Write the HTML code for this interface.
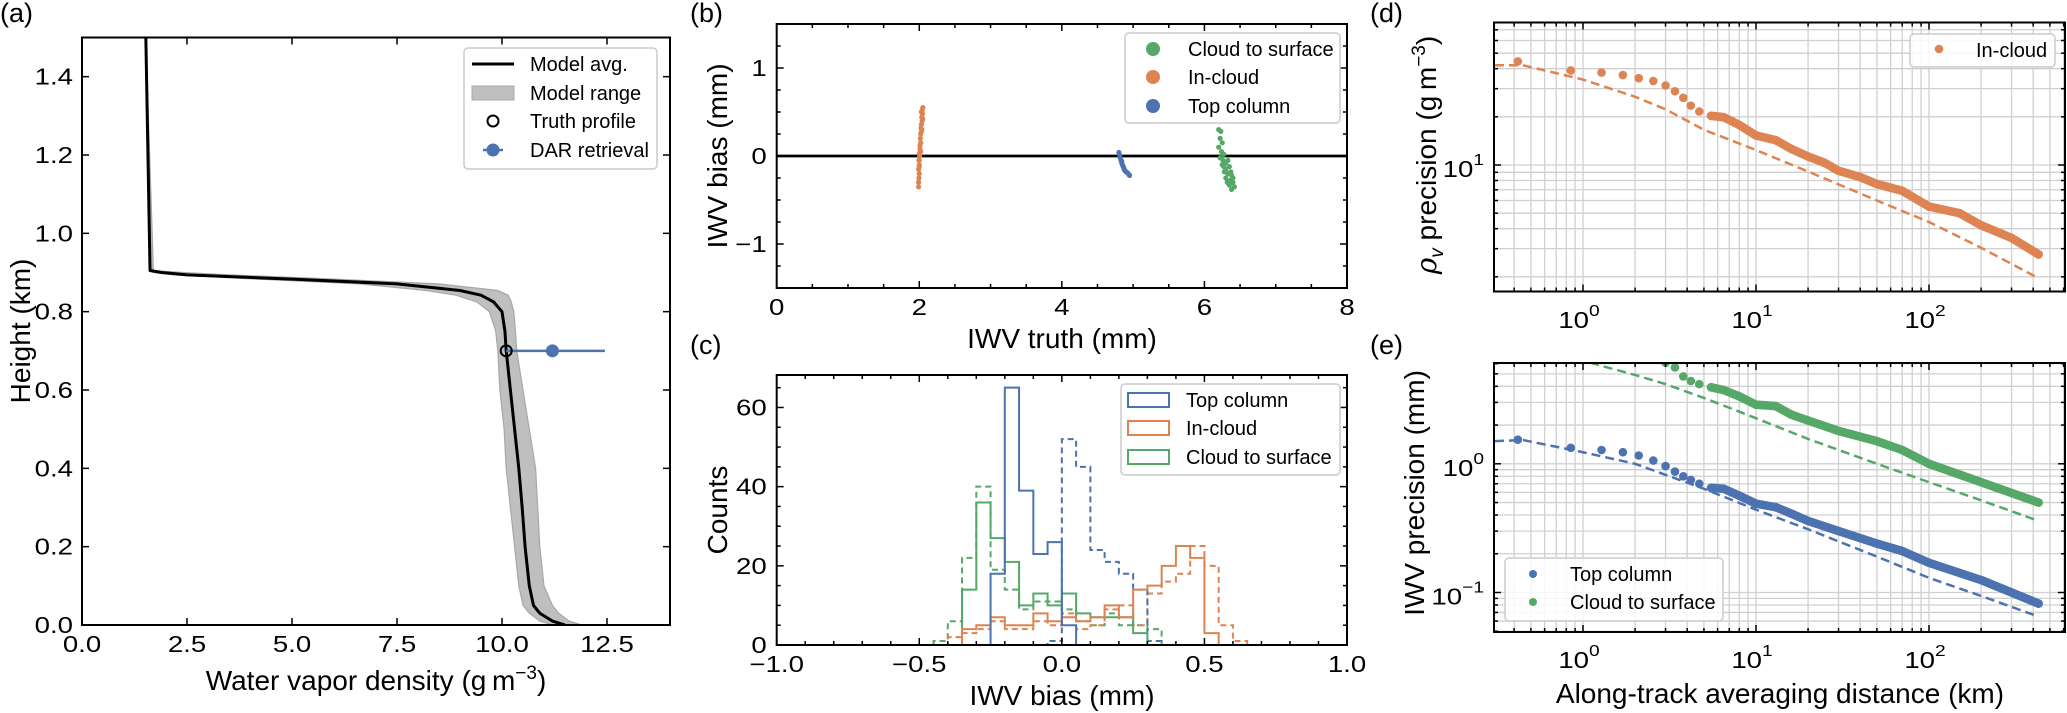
<!DOCTYPE html>
<html><head><meta charset="utf-8"><style>
html,body{margin:0;padding:0;background:#fff;}
svg{display:block;font-family:"Liberation Sans",sans-serif;}
</style></head><body>
<svg id="fig" width="2067" height="713" viewBox="0 0 2067 713" xmlns="http://www.w3.org/2000/svg"></svg>
<script>
// ---------- Panel (a) data ----------
const profZ=[1.5,0.905,0.9,0.894,0.883,0.871,0.854,0.842,0.825,0.8,0.75,0.7,0.6,0.5,0.4,0.3,0.2,0.1,0.05,0.03,0.01,0];
const profAvg=[1.52,1.62,1.9,2.5,5.0,7.5,9.0,9.5,9.8,10.0,10.07,10.1,10.2,10.3,10.4,10.48,10.55,10.65,10.75,10.9,11.2,11.5];
const profMin=[1.52,1.6,1.7,2.2,4.2,6.6,8.2,8.9,9.4,9.7,9.85,9.9,9.95,10.05,10.1,10.2,10.3,10.4,10.5,10.65,10.9,11.2];
const profMax=[1.52,1.7,2.4,3.5,6.0,8.5,9.9,10.15,10.22,10.28,10.32,10.35,10.5,10.65,10.8,10.85,10.9,11.0,11.2,11.35,11.6,11.9];
const truthPt=[10.1,0.7];
const darPt=[11.2,0.7];
const darErr=[10.1,12.45];
// ---------- Panel (b) data ----------
const scatIn=[[1.99,-0.35],[1.99,-0.3],[1.995,-0.25],[2.0,-0.2],[1.99,-0.15],[2.0,-0.1],[2.0,-0.05],[2.005,0],[2.0,0.03],[2.01,0.08],[2.01,0.12],[2.02,0.15],[2.015,0.2],[2.02,0.25],[2.03,0.28],[2.025,0.32],[2.03,0.36],[2.04,0.4],[2.035,0.44],[2.045,0.48],[2.04,0.52],[2.05,0.55],[2.03,0.5],[2.05,0.42],[2.0,-0.12],[1.995,-0.05],[2.02,0.05],[2.035,0.3]];
const scatTop=[[4.8,0.04],[4.81,0.01],[4.82,-0.02],[4.83,-0.05],[4.84,-0.08],[4.85,-0.1],[4.86,-0.12],[4.87,-0.14],[4.88,-0.16],[4.9,-0.18],[4.92,-0.19],[4.94,-0.21],[4.95,-0.22],[4.89,-0.17],[4.84,-0.06]];
const scatSurf=[[6.2,0.3],[6.23,0.28],[6.22,0.2],[6.25,0.15],[6.2,0.1],[6.24,0.05],[6.27,0.02],[6.22,-0.02],[6.26,-0.05],[6.3,-0.08],[6.25,-0.1],[6.3,-0.15],[6.35,-0.12],[6.28,-0.18],[6.33,-0.2],[6.38,-0.22],[6.3,-0.25],[6.36,-0.28],[6.4,-0.25],[6.35,-0.33],[6.4,-0.3],[6.38,-0.38],[6.42,-0.35],[6.32,-0.3],[6.27,-0.12],[6.33,-0.05],[6.37,-0.18]];
// ---------- Panel (c) data (bins of 0.05 starting at -0.45) ----------
const binStart=-0.45, binW=0.05;
const histTopSolid=[0,0,0,0,18,65,39,23,26,5,0,0,0,0,0,0,0,0,0,0,0,0,0];
const histTopDash=[0,0,0,0,0,0,0,0,1,52,45,24,21,18,14,1,0,0,0,0,0,0,0];
const histInSolid=[0,0,4,5,7,5,5,8,6,7,6,7,10,7,14,15,20,25,22,3,0,0,0];
const histInDash=[0,2,3,4,6,4,4,6,5,8,4,5,9,10,5,13,16,18,25,20,5,1,0];
const histSurfSolid=[0,0,14,36,27,21,10,13,10,13,8,7,7,7,3,0,0,0,0,0,0,0,0];
const histSurfDash=[1,6,22,40,19,14,9,11,11,9,6,5,8,5,5,4,0,0,0,0,0,0,0];
// ---------- Panel (d) data ----------
const dDist=[0.42,0.85,1.28,1.7,2.1,2.55,3.0,3.4,3.8,4.2,4.7,5.5,6.5,8,10,13,16,20,25,30,40,50,70,100,150,200,300,430];
const dInCloud=[44.4,39.0,37.8,36.5,34.9,33.5,31.4,28.9,26.3,23.5,21.6,20.3,19.9,17.8,15.3,14.3,12.6,11.3,10.3,9.2,8.4,7.6,6.9,5.5,5.0,4.2,3.5,2.76];
const dDashX=[0.31,0.45,1,2,3,5,10,20,50,100,200,430];
const dInDash=[42,42,34.2,26.7,22.3,16.6,12.4,9.1,6.0,4.4,3.04,1.96];
// ---------- Panel (e) data ----------
const eDistTop=[0.42,0.85,1.28,1.7,2.1,2.55,3.0,3.4,3.8,4.2,4.7,5.5,6.5,8,10,13,16,20,30,50,70,100,200,430];
const eTop=[1.54,1.33,1.28,1.23,1.16,1.06,0.96,0.87,0.80,0.75,0.70,0.65,0.64,0.565,0.49,0.46,0.41,0.36,0.30,0.24,0.21,0.17,0.125,0.082];
const eDistSurf=[3.0,3.4,3.8,4.2,4.7,5.5,6.5,8,10,13,16,20,30,50,70,100,200,430];
const eSurf=[6.1,5.6,4.77,4.4,4.16,3.93,3.74,3.34,2.88,2.81,2.41,2.17,1.80,1.50,1.28,1.0,0.72,0.50];
const eDashXTop=[0.31,0.45,1,2,5,10,20,50,100,200,430];
const eTopDash=[1.50,1.53,1.23,1.0,0.64,0.44,0.31,0.19,0.13,0.094,0.065];
const eDashXSurf=[1.1,2,3,5,10,20,50,100,200,430];
const eSurfDash=[6.1,4.9,4.16,3.25,2.26,1.56,1.0,0.72,0.52,0.36];

const BLUE='#4c72b0',ORANGE='#dd8452',GREEN='#55a868';
const NS='http://www.w3.org/2000/svg';
const svg=document.getElementById('fig');
function mk(tag,attrs,parent){const e=document.createElementNS(NS,tag);for(const k in attrs)e.setAttribute(k,attrs[k]);(parent||svg).appendChild(e);return e;}
function lin(d0,d1,r0,r1){return v=>r0+(v-d0)/(d1-d0)*(r1-r0);}
function txt(p,x,y,s,size,anchor,fam,sx){const t=mk('text',{x:sx?0:x,y:sx?0:y,'font-size':size,'text-anchor':anchor||'middle','font-family':fam||'"Liberation Sans",sans-serif',fill:'#000'},p);if(sx)t.setAttribute('transform','translate('+x+','+y+') scale('+sx+',1)');t.textContent=s;return t;}
const TICKFONT='"Liberation Sans",sans-serif';
const TSX=1.2, TFS=23;
function frame(p,x0,y0,x1,y1){const r=mk('rect',{x:x0,y:y0,width:x1-x0,height:y1-y0,fill:'none',stroke:'#000','stroke-width':2},p);}
function xtick(p,x,y0,y1,len){const a=mk('line',{x1:x,x2:x,y1:y1,y2:y1-len,stroke:'#000','stroke-width':1.5},p);const b=mk('line',{x1:x,x2:x,y1:y0,y2:y0+len,stroke:'#000','stroke-width':1.5},p);}
function ytick(p,y,x0,x1,len){const a=mk('line',{x1:x0,x2:x0+len,y1:y,y2:y,stroke:'#000','stroke-width':1.5},p);const b=mk('line',{x1:x1,x2:x1-len,y1:y,y2:y,stroke:'#000','stroke-width':1.5},p);}
function ylabel(p,x,y,s,size){const t=txt(p,0,0,s,size||28);t.setAttribute('transform','translate('+x+','+y+') rotate(-90)');return t;}
function legendBox(p,x,y,w,h){const r=mk('rect',{x:x,y:y,width:w,height:h,rx:4,fill:'#fff','fill-opacity':0.85,stroke:'#cccccc','stroke-width':1.5},p);}
function panelTag(x,y,s){const t=txt(svg,x,y,s,27,'start');}

// ================= Panel (a) =================
(function(){
const g=mk('g',{});
const X0=82,X1=670,Y0=37.5,Y1=625;
const xs=lin(0,14,X0,X1), ys=lin(0,1.5,Y1,Y0);
const cp=mk('clipPath',{id:'clipA'},g);mk('rect',{x:X0,y:Y0,width:X1-X0,height:Y1-Y0},cp);
const pg=mk('g',{'clip-path':'url(#clipA)'},g);
let d='';profZ.forEach((z,i)=>{d+=(i?'L':'M')+xs(profMin[i])+','+ys(z);});
for(let i=profZ.length-1;i>=0;i--)d+='L'+xs(profMax[i])+','+ys(profZ[i]);
const band=mk('path',{d:d+'Z',fill:'#bfbfbf',stroke:'#a8a8a8','stroke-width':1.2},pg);

const avg=mk('polyline',{points:profZ.map((z,i)=>xs(profAvg[i])+','+ys(z)).join(' '),fill:'none',stroke:'#000','stroke-width':3,'stroke-linejoin':'round'},pg);

const eb=mk('line',{x1:xs(darErr[0]),x2:xs(darErr[1]),y1:ys(darPt[1]),y2:ys(darPt[1]),stroke:BLUE,'stroke-width':2.5},pg);

const dp=mk('circle',{cx:xs(darPt[0]),cy:ys(darPt[1]),r:6.5,fill:BLUE},pg);

const tp=mk('circle',{cx:xs(truthPt[0]),cy:ys(truthPt[1]),r:5.5,fill:'none',stroke:'#000','stroke-width':2},pg);

frame(g,X0,Y0,X1,Y1);
const xt=[0,2.5,5,7.5,10,12.5], xtl=['0.0','2.5','5.0','7.5','10.0','12.5'];
xt.forEach((v,i)=>{xtick(g,xs(v),Y0,Y1,7);const t=txt(g,xs(v),Y1+27,xtl[i],TFS,'middle',TICKFONT,TSX);});
const yt=[0,0.2,0.4,0.6,0.8,1.0,1.2,1.4], ytl=['0.0','0.2','0.4','0.6','0.8','1.0','1.2','1.4'];
yt.forEach((v,i)=>{ytick(g,ys(v),X0,X1,7);const t=txt(g,X0-9,ys(v)+8,ytl[i],TFS,'end',TICKFONT,TSX);});
const xl=txt(g,376,690,'',28);xl.innerHTML='Water vapor density (g\u2009m<tspan dy="-11" font-size="19">\u22123</tspan><tspan dy="11">)</tspan>';

const yl=ylabel(g,30,331,'Height (km)');
legendBox(g,464,48,193,121);
const l1=mk('line',{x1:472,x2:514,y1:64,y2:64,stroke:'#000','stroke-width':3},g);
const l2=mk('rect',{x:472,y:86,width:42,height:14,fill:'#bfbfbf',stroke:'#a8a8a8'},g);
const l3=mk('circle',{cx:493,cy:121,r:5.5,fill:'none',stroke:'#000','stroke-width':2},g);
const l4=mk('line',{x1:483,x2:503,y1:150,y2:150,stroke:BLUE,'stroke-width':2.5},g);
const l5=mk('circle',{cx:493,cy:150,r:6.5,fill:BLUE},g);
[['Model avg.',64],['Model range',93],['Truth profile',121],['DAR retrieval',150]].forEach(a=>{const t=txt(g,530,a[1]+7,a[0],20,'start');});
})();

// ================= Panel (b) =================
(function(){
const g=mk('g',{});
const X0=776.7,X1=1347,Y0=24,Y1=288;
const xs=lin(0,8,X0,X1), ys=lin(-1.5,1.5,Y1,Y0);
const zl=mk('line',{x1:X0,x2:X1,y1:ys(0),y2:ys(0),stroke:'#000','stroke-width':2.8},g);

[[scatIn,ORANGE,'in-cloud-point'],[scatTop,BLUE,'top-column-point'],[scatSurf,GREEN,'cloud-to-surface-point']].forEach(s=>{
 s[0].forEach(p=>{const c=mk('circle',{cx:xs(p[0]),cy:ys(p[1]),r:2.6,fill:s[1]},g);
 
 });
});
frame(g,X0,Y0,X1,Y1);
for(let v=0;v<=8.001;v+=0.5){const major=Math.abs(v-Math.round(v/2)*2)<1e-6;xtick(g,xs(v),Y0,Y1,major?7:4);}
[0,2,4,6,8].forEach(v=>{const t=txt(g,xs(v),Y1+27,String(v),TFS,'middle',TICKFONT,TSX);});
for(let v=-1.5;v<=1.501;v+=0.25){const major=Math.abs(v-Math.round(v))<1e-6;ytick(g,ys(v),X0,X1,major?7:4);}
[[-1,'\u22121'],[0,'0'],[1,'1']].forEach(a=>{const t=txt(g,X0-10,ys(a[0])+8,a[1],TFS,'end',TICKFONT,TSX);});
const xl=txt(g,1062,348,'IWV truth (mm)',28);
const yl=ylabel(g,727,156,'IWV bias (mm)');
legendBox(g,1125,33,215,90);
[[GREEN,'Cloud to surface',49],[ORANGE,'In-cloud',77],[BLUE,'Top column',106]].forEach(a=>{
 const c=mk('circle',{cx:1153,cy:a[2],r:7,fill:a[0]},g);
 
 
 const t=txt(g,1188,a[2]+7,a[1],20,'start');
 
 
});
})();

// ================= Panel (c) =================
(function(){
const g=mk('g',{});
const X0=776.7,X1=1347,Y0=375,Y1=645;
const xs=lin(-1,1,X0,X1), ys=lin(0,68.2,Y1,Y0);
function stepPath(arr){let d='M'+xs(binStart)+','+ys(0);arr.forEach((v,i)=>{const a=binStart+i*binW;d+='L'+xs(a)+','+ys(v)+'L'+xs(a+binW)+','+ys(v);});d+='L'+xs(binStart+arr.length*binW)+','+ys(0);return d;}
[[histSurfDash,GREEN,true,'hist-cloud-to-surface-dashed'],[histInDash,ORANGE,true,'hist-in-cloud-dashed'],[histTopDash,BLUE,true,'hist-top-column-dashed'],
 [histSurfSolid,GREEN,false,'hist-cloud-to-surface'],[histInSolid,ORANGE,false,'hist-in-cloud'],[histTopSolid,BLUE,false,'hist-top-column']].forEach(h=>{
 const p=mk('path',{d:stepPath(h[0]),fill:'none',stroke:h[1],'stroke-width':2,'stroke-dasharray':h[2]?'6,4':'none'},g);
 
 
});
frame(g,X0,Y0,X1,Y1);
for(let k=-10;k<=10;k++){const v=k/10;xtick(g,xs(v),Y0,Y1,k%5===0?7:4);}
[[-1,'\u22121.0'],[-0.5,'\u22120.5'],[0,'0.0'],[0.5,'0.5'],[1,'1.0']].forEach(a=>{const t=txt(g,xs(a[0]),Y1+27,a[1],TFS,'middle',TICKFONT,TSX);});
for(let v=0;v<=68;v+=5){ytick(g,ys(v),X0,X1,v%20===0?7:4);}
[0,20,40,60].forEach(v=>{const t=txt(g,X0-10,ys(v)+8,String(v),TFS,'end',TICKFONT,TSX);});
const xl=txt(g,1062,705,'IWV bias (mm)',28);
const yl=ylabel(g,727,510,'Counts');
legendBox(g,1121,384,219,91);
[[BLUE,'Top column',400],[ORANGE,'In-cloud',428],[GREEN,'Cloud to surface',457]].forEach(a=>{
 const r=mk('rect',{x:1128,y:a[2]-7,width:41,height:14,fill:'none',stroke:a[0],'stroke-width':2},g);
 
 
 const t=txt(g,1186,a[2]+7,a[1],20,'start');
 
 
});
})();

// ================= log panels helpers =================
function logPanel(g,X0,X1,Y0,Y1,xs,ys,xmin,xmax,ymin,ymax){
 for(let e=-1;e<=3;e++){for(let m=1;m<=9;m++){const v=m*Math.pow(10,e);if(v<xmin||v>xmax)continue;const x=xs(v);
  const gl=mk('line',{x1:x,x2:x,y1:Y0,y2:Y1,stroke:'#d0d0d0','stroke-width':1.3},g);
  
  }}
 for(let e=-2;e<=2;e++){for(let m=1;m<=9;m++){const v=m*Math.pow(10,e);if(v<ymin||v>ymax)continue;const y=ys(v);
  const gl=mk('line',{x1:X0,x2:X1,y1:y,y2:y,stroke:'#d0d0d0','stroke-width':1.3},g);
  
  }}
}
function logTicks(g,X0,X1,Y0,Y1,xs,ys,xmin,xmax,ymin,ymax){
 for(let e=-1;e<=3;e++){for(let m=1;m<=9;m++){const v=m*Math.pow(10,e);if(v<xmin||v>xmax)continue;xtick(g,xs(v),Y0,Y1,m===1?7:4);}}
 for(let e=-2;e<=2;e++){for(let m=1;m<=9;m++){const v=m*Math.pow(10,e);if(v<ymin||v>ymax)continue;ytick(g,ys(v),X0,X1,m===1?7:4);}}
}
function powLabel(g,x,y,exp,anchor){const t=txt(g,x,y,'',TFS,anchor,TICKFONT,TSX);t.innerHTML='10<tspan dy="-12" font-size="16">'+exp+'</tspan>';return t;}
function dotSeries(g,xs,ys,X,Y,col,name,denseFrom){
 const pts=[];X.forEach((x,i)=>{if(x>=denseFrom)pts.push(xs(x)+','+ys(Y[i]));});
 const pl=mk('polyline',{points:pts.join(' '),fill:'none',stroke:col,'stroke-width':8.6,'stroke-linecap':'round','stroke-linejoin':'round'},g);
 
 
 X.forEach((x,i)=>{const c=mk('circle',{cx:xs(x),cy:ys(Y[i]),r:4.3,fill:col},g);
  
  });
}
function dashSeries(g,xs,ys,X,Y,col,name){
 const pl=mk('polyline',{points:X.map((x,i)=>xs(x)+','+ys(Y[i])).join(' '),fill:'none',stroke:col,'stroke-width':2.5,'stroke-dasharray':'9,5'},g);
 
 
}

// ================= Panel (d) =================
(function(){
const g=mk('g',{});
const X0=1494,X1=2065,Y0=22.5,Y1=291.5;
const xs=v=>1583+173*Math.log10(v);
const ys=v=>165-160*(Math.log10(v)-1);
const xmin=Math.pow(10,-0.514),xmax=Math.pow(10,2.786),ymin=Math.pow(10,0.208),ymax=Math.pow(10,1.889);
logPanel(g,X0,X1,Y0,Y1,xs,ys,xmin,xmax,ymin,ymax);
const cp=mk('clipPath',{id:'clipD'},g);mk('rect',{x:X0,y:Y0,width:X1-X0,height:Y1-Y0},cp);
const pg=mk('g',{'clip-path':'url(#clipD)'},g);
dashSeries(pg,xs,ys,dDashX,dInDash,ORANGE,'in-cloud-theory-dashed');
dotSeries(pg,xs,ys,dDist,dInCloud,ORANGE,'in-cloud',5.5);
frame(g,X0,Y0,X1,Y1);
logTicks(g,X0,X1,Y0,Y1,xs,ys,xmin,xmax,ymin,ymax);
[[1,'0'],[10,'1'],[100,'2']].forEach(a=>{const t=powLabel(g,xs(a[0])-4,328,a[1],'middle');});
const yt=powLabel(g,X0-10,ys(10)+12,'1','end');
const yl=txt(g,0,0,'',28);yl.setAttribute('transform','translate(1436,155) rotate(-90)');
yl.innerHTML='<tspan font-family="DejaVu Serif, Liberation Serif, serif" font-style="italic">\u03C1</tspan><tspan dy="7" font-size="19" font-style="italic">v</tspan><tspan dy="-7"> precision (g\u2009m</tspan><tspan dy="-11" font-size="19">\u22123</tspan><tspan dy="11">)</tspan>';

legendBox(g,1910,34,145,33);
const m=mk('circle',{cx:1939,cy:49,r:4.3,fill:ORANGE},g);
const t=txt(g,1976,57,'In-cloud',20,'start');
})();

// ================= Panel (e) =================
(function(){
const g=mk('g',{});
const X0=1494,X1=2065,Y0=363,Y1=632;
const xs=v=>1583+173*Math.log10(v);
const ys=v=>463.8-128.7*Math.log10(v);
const xmin=Math.pow(10,-0.514),xmax=Math.pow(10,2.786),ymin=Math.pow(10,-1.305),ymax=Math.pow(10,0.783);
logPanel(g,X0,X1,Y0,Y1,xs,ys,xmin,xmax,ymin,ymax);
const cp=mk('clipPath',{id:'clipE'},g);mk('rect',{x:X0,y:Y0,width:X1-X0,height:Y1-Y0},cp);
const pg=mk('g',{'clip-path':'url(#clipE)'},g);
dashSeries(pg,xs,ys,eDashXTop,eTopDash,BLUE,'top-column-theory-dashed');
dashSeries(pg,xs,ys,eDashXSurf,eSurfDash,GREEN,'cloud-to-surface-theory-dashed');
dotSeries(pg,xs,ys,eDistTop,eTop,BLUE,'top-column',5.5);
dotSeries(pg,xs,ys,eDistSurf,eSurf,GREEN,'cloud-to-surface',5.5);
frame(g,X0,Y0,X1,Y1);
logTicks(g,X0,X1,Y0,Y1,xs,ys,xmin,xmax,ymin,ymax);
[[1,'0'],[10,'1'],[100,'2']].forEach(a=>{const t=powLabel(g,xs(a[0])-4,668,a[1],'middle');});
[[1,'0'],[0.1,'\u22121']].forEach(a=>{const t=powLabel(g,X0-10,ys(a[0])+12,a[1],'end');});
const xl=txt(g,1780,703,'Along-track averaging distance (km)',28);
const yl=ylabel(g,1424,493,'IWV precision (mm)');
legendBox(g,1505,558,218,63);
[[BLUE,'Top column',574],[GREEN,'Cloud to surface',602]].forEach(a=>{
 const c=mk('circle',{cx:1533,cy:a[2],r:4,fill:a[0]},g);
 
 
 const t=txt(g,1570,a[2]+7,a[1],20,'start');
 
 
});
})();

panelTag(0,22,'(a)');
panelTag(690,22,'(b)');
panelTag(690,354,'(c)');
panelTag(1370,22,'(d)');
panelTag(1370,354,'(e)');
</script>
</body></html>
